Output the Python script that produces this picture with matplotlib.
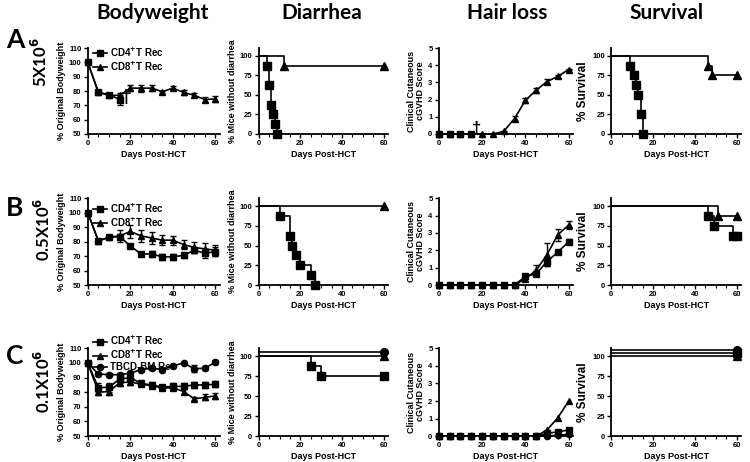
import matplotlib
matplotlib.use("Agg")
import matplotlib.pyplot as plt
from matplotlib.lines import Line2D
from matplotlib.ticker import MultipleLocator
from matplotlib.transforms import offset_copy

plt.rcParams['font.family'] = ['Liberation Sans', 'DejaVu Sans']
plt.rcParams['font.weight'] = 'bold'
plt.rcParams['axes.labelweight'] = 'bold'
plt.rcParams['mathtext.default'] = 'bf'

# ---- data ----
days = [0, 5, 10, 15, 20, 25, 30, 35, 40, 45, 50, 55, 60]
col_titles = ["Bodyweight", "Diarrhea", "Hair loss", "Survival"]
row_letters = ["A", "B", "C"]
row_doses = [r"5X10$^{6}$", r"0.5X10$^{6}$", r"0.1X10$^{6}$"]
lbl_cd4 = r"CD4$^{+}$T Rec"
lbl_cd8 = r"CD8$^{+}$T Rec"
lbl_bm = "TBCD-BM Rec"

# bodyweight (% original)
bw_a_cd4_days = [0, 5, 10, 15]
bw_a_cd4 = [100, 79, 77.5, 74]
bw_a_cd4_err = [0.5, 1, 1, 3.5]
bw_a_cd8 = [100, 79, 77, 77, 82, 82, 82, 79.5, 82, 79, 77, 74, 74.5]
bw_a_cd8_err = [0.5, 1, 1, 1.5, 2, 2.5, 2, 0.8, 1.5, 1.5, 1.5, 2, 2]

bw_b_cd4 = [100, 80.5, 83, 83.5, 77, 71.5, 71.5, 69.5, 69.5, 70.5, 74, 72, 73]
bw_b_cd4_err = [0.5, 1, 1.5, 1.5, 1.5, 1.5, 2, 2, 2, 1.5, 2, 3, 3]
bw_b_cd8 = [100, 80.5, 83, 84, 87, 84, 82.5, 81, 81, 78, 76, 75, 74]
bw_b_cd8_err = [0.5, 1, 1.5, 4, 4.5, 4, 4, 3.5, 3, 3, 4, 4, 4]

bw_c_cd4 = [100, 83, 83.5, 89, 90, 86, 85, 83.5, 84, 84, 85, 85, 85.5]
bw_c_cd4_err = [0.5, 3, 3, 2.5, 2.5, 2, 2, 1.5, 2, 2, 2, 2, 2]
bw_c_cd8 = [100, 80, 80.5, 86.5, 87, 85.5, 84.5, 83, 83, 80.5, 75.5, 76.5, 77.5]
bw_c_cd8_err = [0.5, 2, 2.5, 2, 2, 1.5, 1.5, 1.5, 1.5, 1.5, 1, 2, 2]
bw_c_bm = [100, 92.5, 92, 92, 93, 95.5, 96.5, 95.5, 98, 100, 96, 96.5, 100.5]
bw_c_bm_err = [0.5, 1, 1, 1, 1, 1, 1, 1, 1, 1, 2.5, 1, 1]

# diarrhea-free (step curves: event day, % after event)
dia_a_cd4_t = [0, 4, 5, 6, 7, 8, 9]
dia_a_cd4_s = [100, 87.5, 62.5, 37.5, 25, 12.5, 0]
dia_a_cd8_t = [0, 12, 60]
dia_a_cd8_s = [100, 87.5, 87.5]

dia_b_cd4_t = [0, 10, 15, 16, 18, 20, 25, 27]
dia_b_cd4_s = [100, 87.5, 62.5, 50, 37.5, 25, 12.5, 0]
dia_b_cd8_t = [0, 60]
dia_b_cd8_s = [100, 100]

dia_c_cd4_t = [0, 25, 30, 60]
dia_c_cd4_s = [100, 87.5, 75, 75]
dia_c_cd8_t = [0, 60]
dia_c_cd8_s = [100, 100]
dia_c_bm_t = [0, 60]
dia_c_bm_s = [100, 100]

# hair loss score
hl_a_cd4_days = [0, 5, 10, 15]
hl_a_cd4 = [0, 0, 0, 0]
hl_a_cd8 = [0, 0, 0, 0, 0, 0, 0.15, 0.9, 1.95, 2.55, 3.05, 3.35, 3.75]
hl_a_cd8_err = [0, 0, 0, 0, 0, 0, 0.05, 0.15, 0.15, 0.15, 0.15, 0.08, 0.05]

hl_b_cd4 = [0, 0, 0, 0, 0, 0, 0, 0, 0.5, 0.65, 1.35, 1.9, 2.5]
hl_b_cd4_err = [0, 0, 0, 0, 0, 0, 0, 0, 0.1, 0.15, 0.25, 0.1, 0.15]
hl_b_cd8 = [0, 0, 0, 0, 0, 0, 0, 0, 0.35, 0.85, 1.75, 2.9, 3.45]
hl_b_cd8_err = [0, 0, 0, 0, 0, 0, 0, 0, 0.1, 0.3, 0.65, 0.35, 0.25]

hl_c_cd4 = [0, 0, 0, 0, 0, 0, 0, 0, 0, 0, 0.15, 0.25, 0.35]
hl_c_cd8 = [0, 0, 0, 0, 0, 0, 0, 0, 0, 0, 0.35, 1.05, 2.0]
hl_c_bm = [0, 0, 0, 0, 0, 0, 0, 0, 0, 0, 0, 0.05, 0.1]

# survival
sv_a_cd4_t = [0, 9, 11, 12, 13, 14, 15]
sv_a_cd4_s = [100, 87.5, 75, 62.5, 50, 25, 0]
sv_a_cd8_t = [0, 46, 48, 60]
sv_a_cd8_s = [100, 87.5, 75, 75]

sv_b_cd4_t = [0, 46, 49, 58, 60]
sv_b_cd4_s = [100, 87.5, 75, 62.5, 62.5]
sv_b_cd8_t = [0, 51, 60]
sv_b_cd8_s = [100, 87.5, 87.5]

sv_c_cd4_t = [0, 60]
sv_c_cd4_s = [100, 100]
sv_c_cd8_t = [0, 60]
sv_c_cd8_s = [100, 100]
sv_c_bm_t = [0, 60]
sv_c_bm_s = [100, 100]


fig = plt.figure(figsize=(7.5, 4.62), dpi=100)

col_left = [0.117, 0.345, 0.585, 0.815]
col_width = [0.176, 0.172, 0.179, 0.173]
row_bottom = [0.710, 0.383, 0.056]
row_height = [0.186, 0.188, 0.19]


def style_axes(ax, ylim, ystep, ylabel, ylabel_size=6.5):
    for s in ['top', 'right']:
        ax.spines[s].set_visible(False)
    for s in ['left', 'bottom']:
        ax.spines[s].set_linewidth(1.3)
    ax.set_xlim(0, 62)
    ax.set_ylim(*ylim)
    ax.xaxis.set_major_locator(MultipleLocator(20))
    ax.xaxis.set_minor_locator(MultipleLocator(5))
    ax.yaxis.set_major_locator(MultipleLocator(ystep))
    ax.tick_params(which='major', length=3, width=1, labelsize=5.5, pad=1.5)
    ax.tick_params(which='minor', length=1.8, width=0.8)
    ax.set_xlabel("Days Post-HCT", fontsize=6.5, labelpad=2)
    ax.set_ylabel(ylabel, fontsize=ylabel_size, labelpad=2, linespacing=1.0)


def line_err(ax, x, y, err, marker, ms=4.5):
    ax.errorbar(x, y, yerr=err, color='black', marker=marker, ms=ms, lw=1.2,
                capsize=2, elinewidth=1, capthick=1, clip_on=False)


def km(ax, t, s, marker, ms=5.5, dy=0):
    tr = offset_copy(ax.transData, fig=fig, x=0, y=dy, units='dots')
    ax.step(t, s, where='post', color='black', lw=1.2, transform=tr, clip_on=False)
    ax.plot(t[1:], s[1:], ls='none', marker=marker, ms=ms, color='black',
            transform=tr, clip_on=False)


def add_legend(ax, markers, labels, top):
    handles = [Line2D([], [], color='black', lw=1.2, marker=m, ms=4.5) for m in markers]
    ax.legend(handles, labels, loc='upper left', bbox_to_anchor=(0.04, top),
              frameon=False, fontsize=7, handlelength=1.4, handletextpad=0.3,
              labelspacing=0.1, borderpad=0, borderaxespad=0)


axes = [[fig.add_axes([col_left[c], row_bottom[r], col_width[c], row_height[r]])
         for c in range(4)] for r in range(3)]

# row A
ax = axes[0][0]
line_err(ax, bw_a_cd4_days, bw_a_cd4, bw_a_cd4_err, 's')
line_err(ax, days, bw_a_cd8, bw_a_cd8_err, '^')
ax.text(18, 75.5, "\u2020", fontsize=14, ha='center', va='center')
style_axes(ax, (50, 110), 10, "% Original Bodyweight")
add_legend(ax, ['s', '^'], [lbl_cd4, lbl_cd8], 1.03)

ax = axes[0][1]
km(ax, dia_a_cd4_t, dia_a_cd4_s, 's')
km(ax, dia_a_cd8_t, dia_a_cd8_s, '^')
style_axes(ax, (0, 110), 25, "% Mice without diarrhea")

ax = axes[0][2]
line_err(ax, hl_a_cd4_days, hl_a_cd4, None, 's')
line_err(ax, days, hl_a_cd8, hl_a_cd8_err, '^')
ax.text(17.5, 0.3, "\u2020", fontsize=12, ha='center', va='center')
style_axes(ax, (0, 5), 1, "Clinical Cutaneous\ncGVHD Score")

ax = axes[0][3]
km(ax, sv_a_cd4_t, sv_a_cd4_s, 's')
km(ax, sv_a_cd8_t, sv_a_cd8_s, '^')
style_axes(ax, (0, 110), 25, "% Survival", ylabel_size=8.5)

# row B
ax = axes[1][0]
line_err(ax, days, bw_b_cd4, bw_b_cd4_err, 's')
line_err(ax, days, bw_b_cd8, bw_b_cd8_err, '^')
style_axes(ax, (50, 110), 10, "% Original Bodyweight")
add_legend(ax, ['s', '^'], [lbl_cd4, lbl_cd8], 0.96)

ax = axes[1][1]
km(ax, dia_b_cd4_t, dia_b_cd4_s, 's')
km(ax, dia_b_cd8_t, dia_b_cd8_s, '^')
style_axes(ax, (0, 110), 25, "% Mice without diarrhea")

ax = axes[1][2]
line_err(ax, days, hl_b_cd4, hl_b_cd4_err, 's')
line_err(ax, days, hl_b_cd8, hl_b_cd8_err, '^')
style_axes(ax, (0, 5), 1, "Clinical Cutaneous\ncGVHD Score")

ax = axes[1][3]
km(ax, sv_b_cd4_t, sv_b_cd4_s, 's')
km(ax, sv_b_cd8_t, sv_b_cd8_s, '^')
style_axes(ax, (0, 110), 25, "% Survival", ylabel_size=8.5)

# row C
ax = axes[2][0]
line_err(ax, days, bw_c_cd4, bw_c_cd4_err, 's')
line_err(ax, days, bw_c_cd8, bw_c_cd8_err, '^')
line_err(ax, days, bw_c_bm, bw_c_bm_err, 'o')
style_axes(ax, (50, 110), 10, "% Original Bodyweight")
add_legend(ax, ['s', '^', 'o'], [lbl_cd4, lbl_cd8, lbl_bm], 1.16)

ax = axes[2][1]
km(ax, dia_c_cd4_t, dia_c_cd4_s, 's')
km(ax, dia_c_cd8_t, dia_c_cd8_s, '^')
km(ax, dia_c_bm_t, dia_c_bm_s, 'o', dy=4)
style_axes(ax, (0, 110), 25, "% Mice without diarrhea")

ax = axes[2][2]
line_err(ax, days, hl_c_bm, None, 'o')
line_err(ax, days, hl_c_cd4, None, 's')
line_err(ax, days, hl_c_cd8, None, '^')
style_axes(ax, (0, 5), 1, "Clinical Cutaneous\ncGVHD Score")

ax = axes[2][3]
km(ax, sv_c_cd8_t, sv_c_cd8_s, '^')
km(ax, sv_c_cd4_t, sv_c_cd4_s, 's', dy=3)
km(ax, sv_c_bm_t, sv_c_bm_s, 'o', dy=6)
style_axes(ax, (0, 110), 25, "% Survival", ylabel_size=8.5)

# column headers and row labels
title_x = [153, 322, 507, 667]
for title, x in zip(col_titles, title_x):
    fig.text(x / 750, 1 - 13 / 462, title, fontsize=15, fontweight='bold',
             family=['Lato', 'DejaVu Sans'], ha='center', va='center')

letter_y = [40, 208, 356]
dose_y = [62, 229, 381]
dose_x = [40, 43, 43]
for i in range(3):
    fig.text(15 / 750, 1 - letter_y[i] / 462, row_letters[i], fontsize=19,
             fontweight='bold', family=['Lato', 'DejaVu Sans'], ha='center', va='center')
    fig.text(dose_x[i] / 750, 1 - dose_y[i] / 462, row_doses[i], fontsize=12,
             fontweight='bold', family=['Lato', 'DejaVu Sans'], rotation=90,
             ha='center', va='center')

fig.savefig("out.png", dpi=100)
